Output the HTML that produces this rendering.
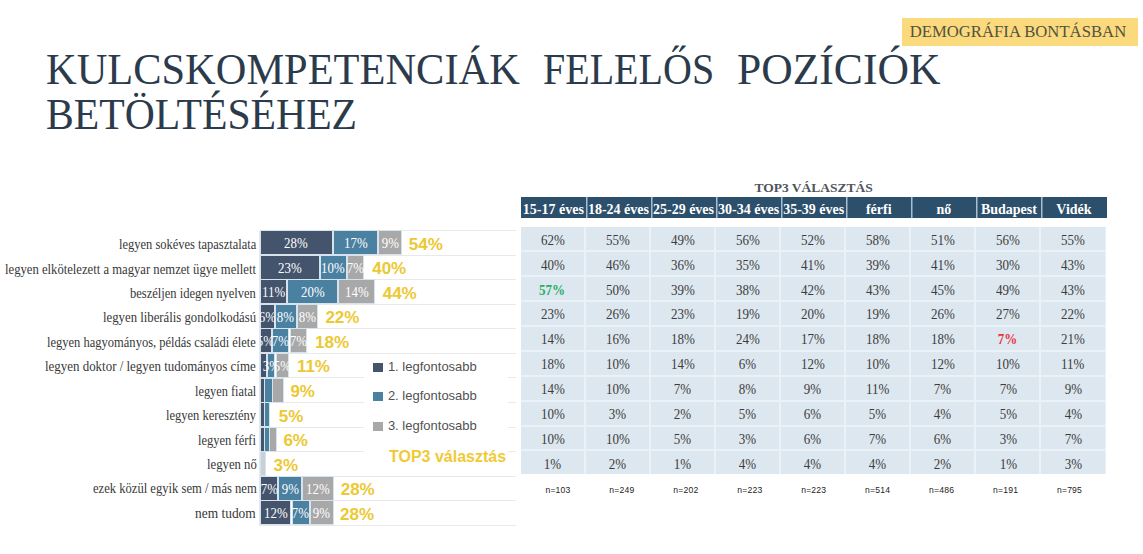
<!DOCTYPE html>
<html><head><meta charset="utf-8">
<style>
html,body{margin:0;padding:0;background:#fff;}
body{width:1143px;height:554px;position:relative;overflow:hidden;font-family:"Liberation Serif",serif;}
.tw{position:absolute;font-size:44px;line-height:45px;color:#2b3b4c;white-space:nowrap;transform-origin:0 0;}
.badge{position:absolute;left:901.5px;top:17.7px;width:236px;height:28.3px;background:#fbd97d;}
.badge span{position:absolute;left:8.2px;top:4px;font-size:16.7px;line-height:20px;color:#545240;white-space:nowrap;}
.gl{position:absolute;left:260px;width:256px;height:1px;background:#e9e9e9;}
.lab{position:absolute;height:23px;line-height:23px;font-size:14px;color:#383838;white-space:nowrap;transform-origin:0 0;}
.seg{position:absolute;height:23px;line-height:23px;color:#fff;box-shadow:0 0 0 1px #d6e2ec;font-size:14px;text-align:center;white-space:nowrap;overflow:visible;}
.seg span{display:inline-block;transform:scaleX(0.92);margin:0 -20px;position:relative;top:1px;}
.tot{position:absolute;height:23px;line-height:23px;font-family:"Liberation Sans",sans-serif;font-weight:bold;font-size:17px;color:#ecc832;margin-top:1.5px;white-space:nowrap;}
.legbox{position:absolute;left:364px;top:356px;width:144px;height:115px;background:#fff;}
.axis{position:absolute;left:259px;top:231px;width:1px;height:295px;background:#e4e8ee;}
.leg{position:absolute;left:372.9px;font-family:"Liberation Sans",sans-serif;font-size:13px;color:#525252;white-space:nowrap;}
.leg i{position:absolute;left:0;top:0;width:10px;height:9px;}
.leg span{position:absolute;left:15px;top:-4px;}
.top3{position:absolute;left:389px;top:447.5px;font-family:"Liberation Sans",sans-serif;font-weight:bold;font-size:16px;color:#f0ca36;white-space:nowrap;}
.ttl{position:absolute;left:520.8px;width:585.7px;top:180px;text-align:center;font-weight:bold;font-size:13.5px;color:#50545c;}
.th{position:absolute;top:197px;height:21px;line-height:21px;background:#2c4f6c;color:#fff;font-weight:bold;font-size:14px;text-align:center;white-space:nowrap;overflow:visible;}
.th span{display:inline-block;margin:0 -20px;position:relative;top:1.5px;}
.td{position:absolute;background:#dde7ef;color:#3c3c3c;font-size:14px;text-align:center;line-height:22px;}
.td span{display:inline-block;transform:scaleX(0.93);position:relative;top:2.5px;}
.td.g{color:#1fb060;font-weight:bold;}
.td.rd{color:#e8323c;font-weight:bold;}
.nn{position:absolute;top:485px;font-family:"Liberation Sans",sans-serif;font-size:8.6px;letter-spacing:0.2px;color:#222;text-align:center;}
</style></head><body>
<div class="tw" style="left:46.0px;top:47px;transform:scaleX(0.9643)">KULCSKOMPETENCIÁK</div>
<div class="tw" style="left:542.8px;top:47px;transform:scaleX(0.9092)">FELELŐS</div>
<div class="tw" style="left:737.3px;top:47px;transform:scaleX(0.9907)">POZÍCIÓK</div>
<div class="tw" style="left:46.1px;top:92.4px;transform:scaleX(0.9474)">BETÖLTÉSÉHEZ</div>
<div class="badge"><span>DEMOGRÁFIA BONTÁSBAN</span></div>
<div class="gl" style="top:230.4px"></div>
<div class="gl" style="top:254.7px"></div>
<div class="gl" style="top:279.2px"></div>
<div class="gl" style="top:303.8px"></div>
<div class="gl" style="top:328.4px"></div>
<div class="gl" style="top:352.9px"></div>
<div class="gl" style="top:377.4px"></div>
<div class="gl" style="top:402.0px"></div>
<div class="gl" style="top:426.5px"></div>
<div class="gl" style="top:451.1px"></div>
<div class="gl" style="top:475.6px"></div>
<div class="gl" style="top:500.2px"></div>
<div class="gl" style="top:524.8px"></div>
<div class="lab" style="left:119.2px;top:233.2px;transform:scaleX(0.8914)">legyen sokéves tapasztalata</div>
<div class="seg" style="left:260.6px;top:231.2px;width:71.4px;background:#44546c"><span>28%</span></div>
<div class="seg" style="left:334.0px;top:231.2px;width:42.7px;background:#4a80a0"><span>17%</span></div>
<div class="seg" style="left:378.7px;top:231.2px;width:22.3px;background:#a8a8a8"><span>9%</span></div>
<div class="tot" style="left:408.8px;top:231.2px">54%</div>
<div class="lab" style="left:5.1px;top:257.6px;transform:scaleX(0.9043)">legyen elkötelezett a magyar nemzet ügye mellett</div>
<div class="seg" style="left:260.6px;top:255.8px;width:58.3px;background:#44546c"><span>23%</span></div>
<div class="seg" style="left:320.9px;top:255.8px;width:24.7px;background:#4a80a0"><span>10%</span></div>
<div class="seg" style="left:347.6px;top:255.8px;width:15.7px;background:#a8a8a8"><span>7%</span></div>
<div class="tot" style="left:372.2px;top:255.8px">40%</div>
<div class="lab" style="left:130.4px;top:282.0px;transform:scaleX(0.8942)">beszéljen idegen nyelven</div>
<div class="seg" style="left:260.6px;top:280.3px;width:25.6px;background:#44546c"><span>11%</span></div>
<div class="seg" style="left:288.2px;top:280.3px;width:48.9px;background:#4a80a0"><span>20%</span></div>
<div class="seg" style="left:339.1px;top:280.3px;width:34.9px;background:#a8a8a8"><span>14%</span></div>
<div class="tot" style="left:382.7px;top:280.3px">44%</div>
<div class="lab" style="left:103.4px;top:306.4px;transform:scaleX(0.9114)">legyen liberális gondolkodású</div>
<div class="seg" style="left:260.6px;top:304.9px;width:13.4px;background:#44546c"><span>6%</span></div>
<div class="seg" style="left:276.0px;top:304.9px;width:19.5px;background:#4a80a0"><span>8%</span></div>
<div class="seg" style="left:297.5px;top:304.9px;width:19.7px;background:#a8a8a8"><span>8%</span></div>
<div class="tot" style="left:325.4px;top:304.9px">22%</div>
<div class="lab" style="left:47.3px;top:330.8px;transform:scaleX(0.8940)">legyen hagyományos, példás családi élete</div>
<div class="seg" style="left:260.6px;top:329.4px;width:10.0px;background:#44546c"><span>5%</span></div>
<div class="seg" style="left:272.6px;top:329.4px;width:15.9px;background:#4a80a0"><span>7%</span></div>
<div class="seg" style="left:290.5px;top:329.4px;width:15.8px;background:#a8a8a8"><span>7%</span></div>
<div class="tot" style="left:315.0px;top:329.4px">18%</div>
<div class="lab" style="left:45.1px;top:355.2px;transform:scaleX(0.9233)">legyen doktor / legyen tudományos címe</div>
<div class="seg" style="left:260.6px;top:353.9px;width:5.1px;background:#44546c"></div>
<div class="seg" style="left:267.7px;top:353.9px;width:6.8px;background:#4a80a0"><span>3%</span></div>
<div class="seg" style="left:276.5px;top:353.9px;width:11.6px;background:#a8a8a8"><span>5%</span></div>
<div class="tot" style="left:296.9px;top:353.9px">11%</div>
<div class="lab" style="left:194.8px;top:379.7px;transform:scaleX(0.8809)">legyen fiatal</div>
<div class="seg" style="left:260.6px;top:378.5px;width:3.7px;background:#44546c"></div>
<div class="seg" style="left:265.3px;top:378.5px;width:6.9px;background:#4a80a0"></div>
<div class="seg" style="left:273.2px;top:378.5px;width:9.5px;background:#a8a8a8"></div>
<div class="tot" style="left:290.4px;top:378.5px">9%</div>
<div class="lab" style="left:166.2px;top:404.1px;transform:scaleX(0.8939)">legyen keresztény</div>
<div class="seg" style="left:260.6px;top:403.0px;width:3.7px;background:#44546c"></div>
<div class="seg" style="left:265.3px;top:403.0px;width:4.0px;background:#4a80a0"></div>
<div class="tot" style="left:278.8px;top:403.0px">5%</div>
<div class="lab" style="left:198.4px;top:428.5px;transform:scaleX(0.8937)">legyen férfi</div>
<div class="seg" style="left:260.6px;top:427.6px;width:3.7px;background:#44546c"></div>
<div class="seg" style="left:265.3px;top:427.6px;width:4.0px;background:#4a80a0"></div>
<div class="seg" style="left:270.3px;top:427.6px;width:6.0px;background:#a8a8a8"></div>
<div class="tot" style="left:283.4px;top:427.6px">6%</div>
<div class="lab" style="left:206.5px;top:452.9px;transform:scaleX(0.9094)">legyen nő</div>
<div class="seg" style="left:260.6px;top:452.1px;width:4.5px;background:#c9d0d8"></div>
<div class="tot" style="left:273.5px;top:452.1px">3%</div>
<div class="lab" style="left:92.7px;top:477.3px;transform:scaleX(0.9000)">ezek közül egyik sem / más nem</div>
<div class="seg" style="left:260.6px;top:476.7px;width:16.6px;background:#44546c"><span>7%</span></div>
<div class="seg" style="left:279.2px;top:476.7px;width:22.2px;background:#4a80a0"><span>9%</span></div>
<div class="seg" style="left:303.4px;top:476.7px;width:29.5px;background:#a8a8a8"><span>12%</span></div>
<div class="tot" style="left:340.7px;top:476.7px">28%</div>
<div class="lab" style="left:195.2px;top:501.7px;transform:scaleX(0.9581)">nem tudom</div>
<div class="seg" style="left:260.6px;top:501.2px;width:29.9px;background:#44546c"><span>12%</span></div>
<div class="seg" style="left:292.5px;top:501.2px;width:16.0px;background:#4a80a0"><span>7%</span></div>
<div class="seg" style="left:310.5px;top:501.2px;width:22.4px;background:#a8a8a8"><span>9%</span></div>
<div class="tot" style="left:340.1px;top:501.2px">28%</div>
<div class="legbox"></div>
<div class="axis"></div>
<div class="leg" style="top:362.9px"><i style="background:#44546c"></i><span>1. legfontosabb</span></div>
<div class="leg" style="top:392.2px"><i style="background:#4a80a0"></i><span>2. legfontosabb</span></div>
<div class="leg" style="top:422.3px"><i style="background:#a8a8a8"></i><span>3. legfontosabb</span></div>
<div class="top3">TOP3 választás</div>
<div class="ttl">TOP3 VÁLASZTÁS</div>
<div class="th" style="left:520.80px;width:65.08px;"><span>15-17 éves</span></div>
<div class="th" style="left:585.88px;width:65.08px;box-shadow:inset 1.5px 0 0 #a9bfd0;"><span>18-24 éves</span></div>
<div class="th" style="left:650.96px;width:65.08px;box-shadow:inset 1.5px 0 0 #a9bfd0;"><span>25-29 éves</span></div>
<div class="th" style="left:716.04px;width:65.08px;box-shadow:inset 1.5px 0 0 #a9bfd0;"><span>30-34 éves</span></div>
<div class="th" style="left:781.12px;width:65.08px;box-shadow:inset 1.5px 0 0 #a9bfd0;"><span>35-39 éves</span></div>
<div class="th" style="left:846.20px;width:65.08px;box-shadow:inset 1.5px 0 0 #a9bfd0;"><span>férfi</span></div>
<div class="th" style="left:911.28px;width:65.08px;box-shadow:inset 1.5px 0 0 #a9bfd0;"><span>nő</span></div>
<div class="th" style="left:976.36px;width:65.08px;box-shadow:inset 1.5px 0 0 #a9bfd0;"><span>Budapest</span></div>
<div class="th" style="left:1041.44px;width:65.08px;box-shadow:inset 1.5px 0 0 #a9bfd0;"><span>Vidék</span></div>
<div style="position:absolute;left:520.80px;top:227.2px;width:585.22px;height:247.20px;background:#eaf2f8"></div>
<div class="td" style="left:520.80px;top:227.20px;width:63.08px;height:22.92px"><span>62%</span></div>
<div class="td" style="left:585.88px;top:227.20px;width:63.08px;height:22.92px"><span>55%</span></div>
<div class="td" style="left:650.96px;top:227.20px;width:63.08px;height:22.92px"><span>49%</span></div>
<div class="td" style="left:716.04px;top:227.20px;width:63.08px;height:22.92px"><span>56%</span></div>
<div class="td" style="left:781.12px;top:227.20px;width:63.08px;height:22.92px"><span>52%</span></div>
<div class="td" style="left:846.20px;top:227.20px;width:63.08px;height:22.92px"><span>58%</span></div>
<div class="td" style="left:911.28px;top:227.20px;width:63.08px;height:22.92px"><span>51%</span></div>
<div class="td" style="left:976.36px;top:227.20px;width:63.08px;height:22.92px"><span>56%</span></div>
<div class="td" style="left:1041.44px;top:227.20px;width:63.08px;height:22.92px"><span>55%</span></div>
<div class="td" style="left:520.80px;top:252.12px;width:63.08px;height:22.92px"><span>40%</span></div>
<div class="td" style="left:585.88px;top:252.12px;width:63.08px;height:22.92px"><span>46%</span></div>
<div class="td" style="left:650.96px;top:252.12px;width:63.08px;height:22.92px"><span>36%</span></div>
<div class="td" style="left:716.04px;top:252.12px;width:63.08px;height:22.92px"><span>35%</span></div>
<div class="td" style="left:781.12px;top:252.12px;width:63.08px;height:22.92px"><span>41%</span></div>
<div class="td" style="left:846.20px;top:252.12px;width:63.08px;height:22.92px"><span>39%</span></div>
<div class="td" style="left:911.28px;top:252.12px;width:63.08px;height:22.92px"><span>41%</span></div>
<div class="td" style="left:976.36px;top:252.12px;width:63.08px;height:22.92px"><span>30%</span></div>
<div class="td" style="left:1041.44px;top:252.12px;width:63.08px;height:22.92px"><span>43%</span></div>
<div class="td g" style="left:520.80px;top:277.04px;width:63.08px;height:22.92px"><span>57%</span></div>
<div class="td" style="left:585.88px;top:277.04px;width:63.08px;height:22.92px"><span>50%</span></div>
<div class="td" style="left:650.96px;top:277.04px;width:63.08px;height:22.92px"><span>39%</span></div>
<div class="td" style="left:716.04px;top:277.04px;width:63.08px;height:22.92px"><span>38%</span></div>
<div class="td" style="left:781.12px;top:277.04px;width:63.08px;height:22.92px"><span>42%</span></div>
<div class="td" style="left:846.20px;top:277.04px;width:63.08px;height:22.92px"><span>43%</span></div>
<div class="td" style="left:911.28px;top:277.04px;width:63.08px;height:22.92px"><span>45%</span></div>
<div class="td" style="left:976.36px;top:277.04px;width:63.08px;height:22.92px"><span>49%</span></div>
<div class="td" style="left:1041.44px;top:277.04px;width:63.08px;height:22.92px"><span>43%</span></div>
<div class="td" style="left:520.80px;top:301.96px;width:63.08px;height:22.92px"><span>23%</span></div>
<div class="td" style="left:585.88px;top:301.96px;width:63.08px;height:22.92px"><span>26%</span></div>
<div class="td" style="left:650.96px;top:301.96px;width:63.08px;height:22.92px"><span>23%</span></div>
<div class="td" style="left:716.04px;top:301.96px;width:63.08px;height:22.92px"><span>19%</span></div>
<div class="td" style="left:781.12px;top:301.96px;width:63.08px;height:22.92px"><span>20%</span></div>
<div class="td" style="left:846.20px;top:301.96px;width:63.08px;height:22.92px"><span>19%</span></div>
<div class="td" style="left:911.28px;top:301.96px;width:63.08px;height:22.92px"><span>26%</span></div>
<div class="td" style="left:976.36px;top:301.96px;width:63.08px;height:22.92px"><span>27%</span></div>
<div class="td" style="left:1041.44px;top:301.96px;width:63.08px;height:22.92px"><span>22%</span></div>
<div class="td" style="left:520.80px;top:326.88px;width:63.08px;height:22.92px"><span>14%</span></div>
<div class="td" style="left:585.88px;top:326.88px;width:63.08px;height:22.92px"><span>16%</span></div>
<div class="td" style="left:650.96px;top:326.88px;width:63.08px;height:22.92px"><span>18%</span></div>
<div class="td" style="left:716.04px;top:326.88px;width:63.08px;height:22.92px"><span>24%</span></div>
<div class="td" style="left:781.12px;top:326.88px;width:63.08px;height:22.92px"><span>17%</span></div>
<div class="td" style="left:846.20px;top:326.88px;width:63.08px;height:22.92px"><span>18%</span></div>
<div class="td" style="left:911.28px;top:326.88px;width:63.08px;height:22.92px"><span>18%</span></div>
<div class="td rd" style="left:976.36px;top:326.88px;width:63.08px;height:22.92px"><span>7%</span></div>
<div class="td" style="left:1041.44px;top:326.88px;width:63.08px;height:22.92px"><span>21%</span></div>
<div class="td" style="left:520.80px;top:351.80px;width:63.08px;height:22.92px"><span>18%</span></div>
<div class="td" style="left:585.88px;top:351.80px;width:63.08px;height:22.92px"><span>10%</span></div>
<div class="td" style="left:650.96px;top:351.80px;width:63.08px;height:22.92px"><span>14%</span></div>
<div class="td" style="left:716.04px;top:351.80px;width:63.08px;height:22.92px"><span>6%</span></div>
<div class="td" style="left:781.12px;top:351.80px;width:63.08px;height:22.92px"><span>12%</span></div>
<div class="td" style="left:846.20px;top:351.80px;width:63.08px;height:22.92px"><span>10%</span></div>
<div class="td" style="left:911.28px;top:351.80px;width:63.08px;height:22.92px"><span>12%</span></div>
<div class="td" style="left:976.36px;top:351.80px;width:63.08px;height:22.92px"><span>10%</span></div>
<div class="td" style="left:1041.44px;top:351.80px;width:63.08px;height:22.92px"><span>11%</span></div>
<div class="td" style="left:520.80px;top:376.72px;width:63.08px;height:22.92px"><span>14%</span></div>
<div class="td" style="left:585.88px;top:376.72px;width:63.08px;height:22.92px"><span>10%</span></div>
<div class="td" style="left:650.96px;top:376.72px;width:63.08px;height:22.92px"><span>7%</span></div>
<div class="td" style="left:716.04px;top:376.72px;width:63.08px;height:22.92px"><span>8%</span></div>
<div class="td" style="left:781.12px;top:376.72px;width:63.08px;height:22.92px"><span>9%</span></div>
<div class="td" style="left:846.20px;top:376.72px;width:63.08px;height:22.92px"><span>11%</span></div>
<div class="td" style="left:911.28px;top:376.72px;width:63.08px;height:22.92px"><span>7%</span></div>
<div class="td" style="left:976.36px;top:376.72px;width:63.08px;height:22.92px"><span>7%</span></div>
<div class="td" style="left:1041.44px;top:376.72px;width:63.08px;height:22.92px"><span>9%</span></div>
<div class="td" style="left:520.80px;top:401.64px;width:63.08px;height:22.92px"><span>10%</span></div>
<div class="td" style="left:585.88px;top:401.64px;width:63.08px;height:22.92px"><span>3%</span></div>
<div class="td" style="left:650.96px;top:401.64px;width:63.08px;height:22.92px"><span>2%</span></div>
<div class="td" style="left:716.04px;top:401.64px;width:63.08px;height:22.92px"><span>5%</span></div>
<div class="td" style="left:781.12px;top:401.64px;width:63.08px;height:22.92px"><span>6%</span></div>
<div class="td" style="left:846.20px;top:401.64px;width:63.08px;height:22.92px"><span>5%</span></div>
<div class="td" style="left:911.28px;top:401.64px;width:63.08px;height:22.92px"><span>4%</span></div>
<div class="td" style="left:976.36px;top:401.64px;width:63.08px;height:22.92px"><span>5%</span></div>
<div class="td" style="left:1041.44px;top:401.64px;width:63.08px;height:22.92px"><span>4%</span></div>
<div class="td" style="left:520.80px;top:426.56px;width:63.08px;height:22.92px"><span>10%</span></div>
<div class="td" style="left:585.88px;top:426.56px;width:63.08px;height:22.92px"><span>10%</span></div>
<div class="td" style="left:650.96px;top:426.56px;width:63.08px;height:22.92px"><span>5%</span></div>
<div class="td" style="left:716.04px;top:426.56px;width:63.08px;height:22.92px"><span>3%</span></div>
<div class="td" style="left:781.12px;top:426.56px;width:63.08px;height:22.92px"><span>6%</span></div>
<div class="td" style="left:846.20px;top:426.56px;width:63.08px;height:22.92px"><span>7%</span></div>
<div class="td" style="left:911.28px;top:426.56px;width:63.08px;height:22.92px"><span>6%</span></div>
<div class="td" style="left:976.36px;top:426.56px;width:63.08px;height:22.92px"><span>3%</span></div>
<div class="td" style="left:1041.44px;top:426.56px;width:63.08px;height:22.92px"><span>7%</span></div>
<div class="td" style="left:520.80px;top:451.48px;width:63.08px;height:22.92px"><span>1%</span></div>
<div class="td" style="left:585.88px;top:451.48px;width:63.08px;height:22.92px"><span>2%</span></div>
<div class="td" style="left:650.96px;top:451.48px;width:63.08px;height:22.92px"><span>1%</span></div>
<div class="td" style="left:716.04px;top:451.48px;width:63.08px;height:22.92px"><span>4%</span></div>
<div class="td" style="left:781.12px;top:451.48px;width:63.08px;height:22.92px"><span>4%</span></div>
<div class="td" style="left:846.20px;top:451.48px;width:63.08px;height:22.92px"><span>4%</span></div>
<div class="td" style="left:911.28px;top:451.48px;width:63.08px;height:22.92px"><span>2%</span></div>
<div class="td" style="left:976.36px;top:451.48px;width:63.08px;height:22.92px"><span>1%</span></div>
<div class="td" style="left:1041.44px;top:451.48px;width:63.08px;height:22.92px"><span>3%</span></div>
<div class="nn" style="left:518.00px;width:80px">n=103</div>
<div class="nn" style="left:581.94px;width:80px">n=249</div>
<div class="nn" style="left:645.88px;width:80px">n=202</div>
<div class="nn" style="left:709.82px;width:80px">n=223</div>
<div class="nn" style="left:773.76px;width:80px">n=223</div>
<div class="nn" style="left:837.70px;width:80px">n=514</div>
<div class="nn" style="left:901.64px;width:80px">n=486</div>
<div class="nn" style="left:965.58px;width:80px">n=191</div>
<div class="nn" style="left:1029.52px;width:80px">n=795</div>
</body></html>
